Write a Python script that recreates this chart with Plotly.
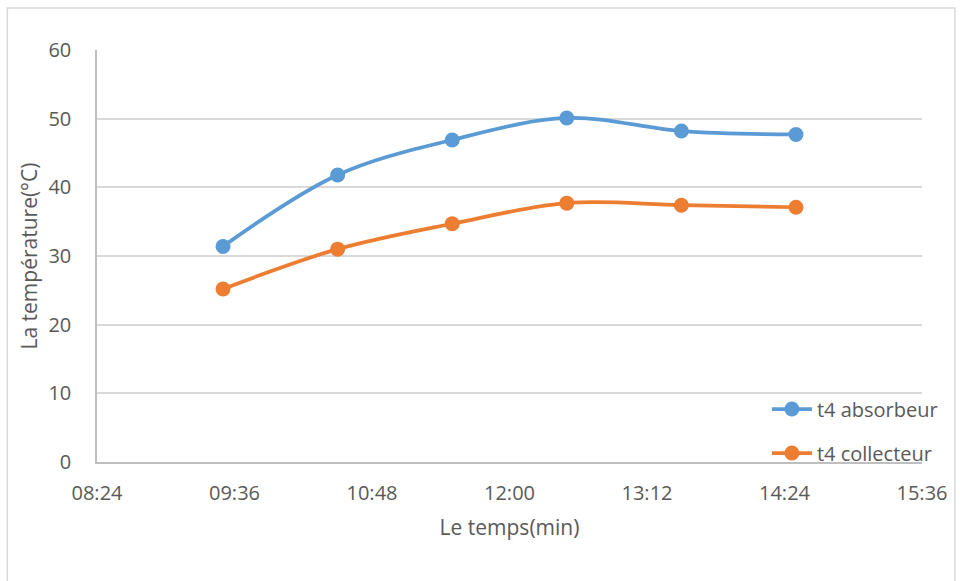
import plotly.graph_objects as go

times = ["2024-01-01 09:30", "2024-01-01 10:30", "2024-01-01 11:30",
         "2024-01-01 12:30", "2024-01-01 13:30", "2024-01-01 14:30"]
absorbeur = [31.4, 41.8, 46.9, 50.1, 48.2, 47.7]
collecteur = [25.2, 31.0, 34.7, 37.7, 37.4, 37.1]
tick_vals = ["2024-01-01 08:24", "2024-01-01 09:36", "2024-01-01 10:48",
             "2024-01-01 12:00", "2024-01-01 13:12", "2024-01-01 14:24",
             "2024-01-01 15:36"]
tick_text = ["08:24", "09:36", "10:48", "12:00", "13:12", "14:24", "15:36"]

font_fam = "Open Sans, Liberation Sans, Arial, sans-serif"
gray = "#595959"

fig = go.Figure()
fig.add_trace(go.Scatter(x=times, y=absorbeur, name="t4 absorbeur", mode="lines+markers",
                         line=dict(color="#5b9bd5", width=3.75, shape="spline"),
                         marker=dict(size=15, color="#5b9bd5"), legend="legend"))
fig.add_trace(go.Scatter(x=times, y=collecteur, name="t4 collecteur", mode="lines+markers",
                         line=dict(color="#ed7d31", width=3.75, shape="spline"),
                         marker=dict(size=15, color="#ed7d31"), legend="legend2"))

fig.update_layout(
    width=960, height=581,
    showlegend=True,
    margin=dict(l=97, r=35, t=50, b=119),
    paper_bgcolor="white", plot_bgcolor="white",
    font=dict(family=font_fam, color=gray, size=20),
    xaxis=dict(type="date", range=[tick_vals[0], tick_vals[-1]],
               tickvals=tick_vals, ticktext=tick_text,
               showgrid=False, showline=True, linecolor="#bfbfbf", linewidth=1.5,
               ticks="", ticklabelstandoff=12, zeroline=False,
               tickfont=dict(size=20, color=gray),
               title=dict(text="Le temps(min)", font=dict(size=21, color=gray), standoff=16)),
    yaxis=dict(range=[0, 60], tickvals=[0, 10, 20, 30, 40, 50, 60],
               showgrid=True, gridcolor="#d9d9d9", gridwidth=1.5,
               showline=True, linecolor="#bfbfbf", linewidth=1.5,
               zeroline=False, ticks="", ticklabelstandoff=20,
               tickfont=dict(size=20, color=gray),
               title=dict(text="La température(°C)", font=dict(size=21, color=gray), standoff=5)),
    legend=dict(x=0.812, y=(462 - 409) / 412, xanchor="left", yanchor="middle",
                bgcolor="rgba(0,0,0,0)", font=dict(size=20, color=gray),
                itemwidth=40, visible=True),
    legend2=dict(x=0.812, y=(462 - 453) / 412, xanchor="left", yanchor="middle",
                 bgcolor="rgba(0,0,0,0)", font=dict(size=20, color=gray),
                 itemwidth=40, visible=True),
    shapes=[dict(type="rect", xref="paper", yref="paper",
                 x0=-90 / 828, x1=(958 - 97) / 828, y0=-(590 - 462) / 412, y1=(462 - 8) / 412,
                 line=dict(color="#d9d9d9", width=1.5), fillcolor="rgba(0,0,0,0)", layer="below")],
)

fig.write_html("out.html", config={"displayModeBar": False},
               post_script="document.body.style.margin='0';document.body.style.overflow='hidden';")
